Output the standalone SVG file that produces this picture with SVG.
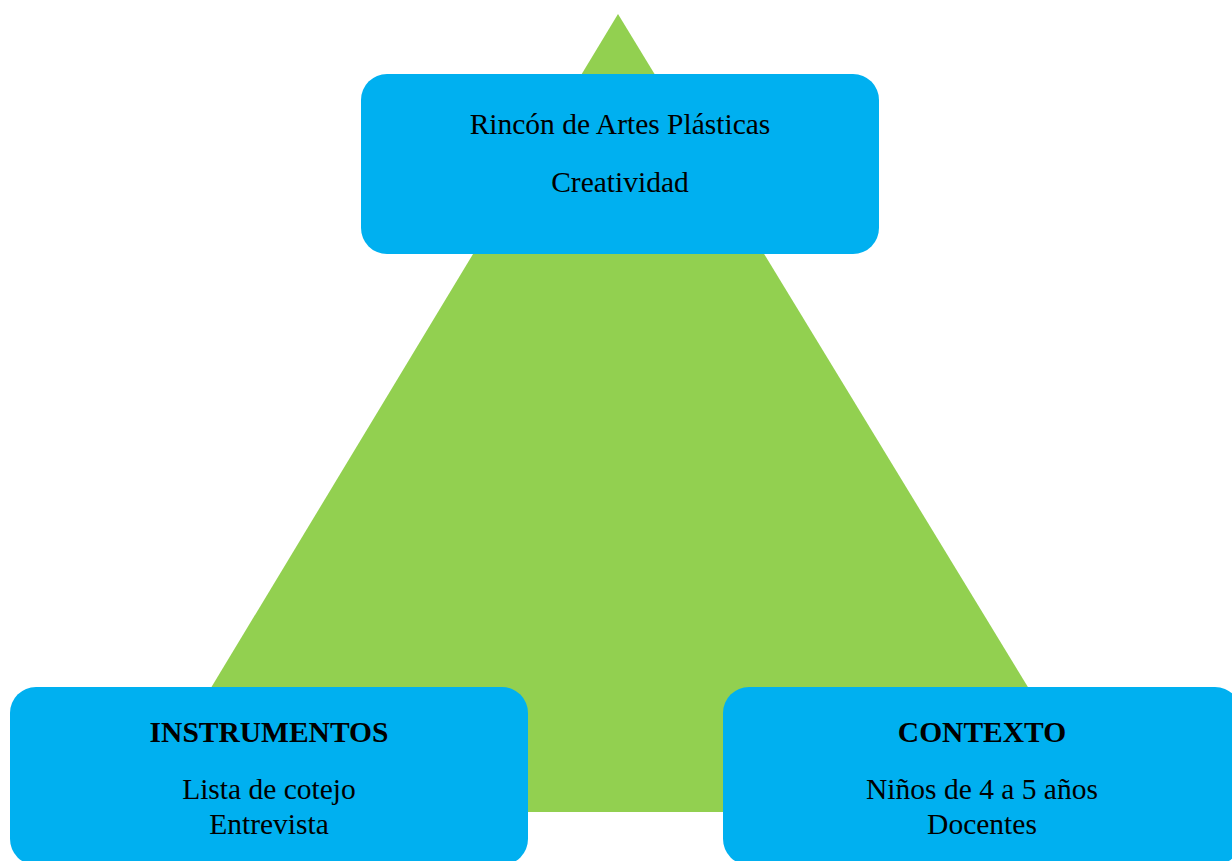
<svg xmlns="http://www.w3.org/2000/svg" width="1232" height="861" viewBox="0 0 1232 861">
<style>
.box{fill:#00B0F0;}
.t{font-family:"Liberation Serif","Times New Roman",serif;font-size:29.5px;fill:#000;text-anchor:middle;}
.b{font-weight:bold;}
</style>
<rect width="1232" height="861" fill="#fff"/>
<g id="triangle"><polygon points="618,14 136,812 1104,812" fill="#92D050"/></g>
<g id="connectors"></g>
<g id="top">
<rect class="box" x="361" y="74" width="518" height="180" rx="26"/>
<text class="t" x="620" y="134">Rincón de Artes Plásticas</text>
<text class="t" x="620" y="192">Creatividad</text>
</g>
<g id="instrumentos">
<rect class="box" x="10" y="687" width="518" height="178" rx="26"/>
<text class="t b" x="269" y="742">INSTRUMENTOS</text>
<text class="t" x="269" y="799">Lista de cotejo</text>
<text class="t" x="269" y="834">Entrevista</text>
</g>
<g id="contexto">
<rect class="box" x="723" y="687" width="518" height="178" rx="26"/>
<text class="t b" x="982" y="742">CONTEXTO</text>
<text class="t" x="982" y="799">Niños de 4 a 5 años</text>
<text class="t" x="982" y="834">Docentes</text>
</g>
</svg>
